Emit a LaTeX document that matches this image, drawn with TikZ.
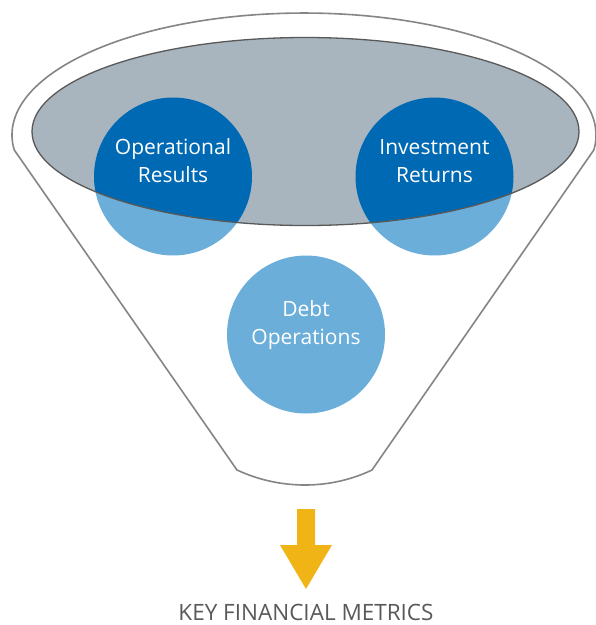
\documentclass[tikz,border=0pt]{standalone}
\usepackage{fontspec}
\setmainfont{Open Sans}
\usepackage{tikz}
\usetikzlibrary{positioning,calc}
\definecolor{darkblue}{HTML}{0069B4}
\definecolor{lightblue}{HTML}{6BAED9}
\definecolor{mouthgrey}{HTML}{A9B5BE}
\definecolor{rimgrey}{HTML}{858585}
\definecolor{arrowgold}{HTML}{F0B416}
\definecolor{labelgrey}{HTML}{595959}
\tikzset{
funnel/.style = {draw=rimgrey, fill=white, line width=1.6pt, line join=round},
mouth/.style = {fill=mouthgrey},
mouthrim/.style = {draw=black!65, line width=1.3pt},
bubble/.style = {circle, fill=lightblue, minimum size=158pt, inner sep=0pt},
bubbletext/.style = {align=center, text=white, inner sep=0pt, font=\fontsize{21}{28}\selectfont},
metric/.style = {text=labelgrey, inner sep=0pt, anchor=base, font=\fontsize{22.5}{26}\selectfont}
}

\begin{document}
\begin{tikzpicture}[x=1pt, y=-1pt]
    \useasboundingbox (0,0) rectangle (596,625);
    \draw[funnel] (14.2,149.9) arc[start angle=173, end angle=367, x radius=292, y radius=122]
        -- (372,470) .. controls (330,490) and (280,490) .. (237,470) -- cycle;
    \node[bubble] (opres) at (173,176.5) {};
    \node[bubble] (invret) at (434.5,176.5) {};
    \node[bubble] (debtops) at (306,334.5) {};
    \fill[mouth] (305.5,131.5) ellipse[x radius=273.5, y radius=94];
    \begin{scope}
        \clip (305.5,131.5) ellipse[x radius=273.5, y radius=94];
        \fill[darkblue] (opres.center) circle[radius=79];
        \fill[darkblue] (invret.center) circle[radius=79];
    \end{scope}
    \draw[mouthrim] (305.5,131.5) ellipse[x radius=273.5, y radius=94];
    \node[bubbletext] (opreslbl) at ($(opres.center)+(0,-15.5)$) {Operational\\Results};
    \node[bubbletext] (invretlbl) at ($(invret.center)+(0,-15.5)$) {Investment\\Returns};
    \node[bubbletext] (debtopslbl) at ($(debtops.center)+(0,-9)$) {Debt\\Operations};
    \node[metric] (keymetrics) at (306,620) {KEY FINANCIAL METRICS};
    \fill[arrowgold] (297,509) -- (315,509) -- (315,545) -- (332,545) -- (306,589)
        -- (280,545) -- (297,545) -- cycle;
\end{tikzpicture}
\end{document}
